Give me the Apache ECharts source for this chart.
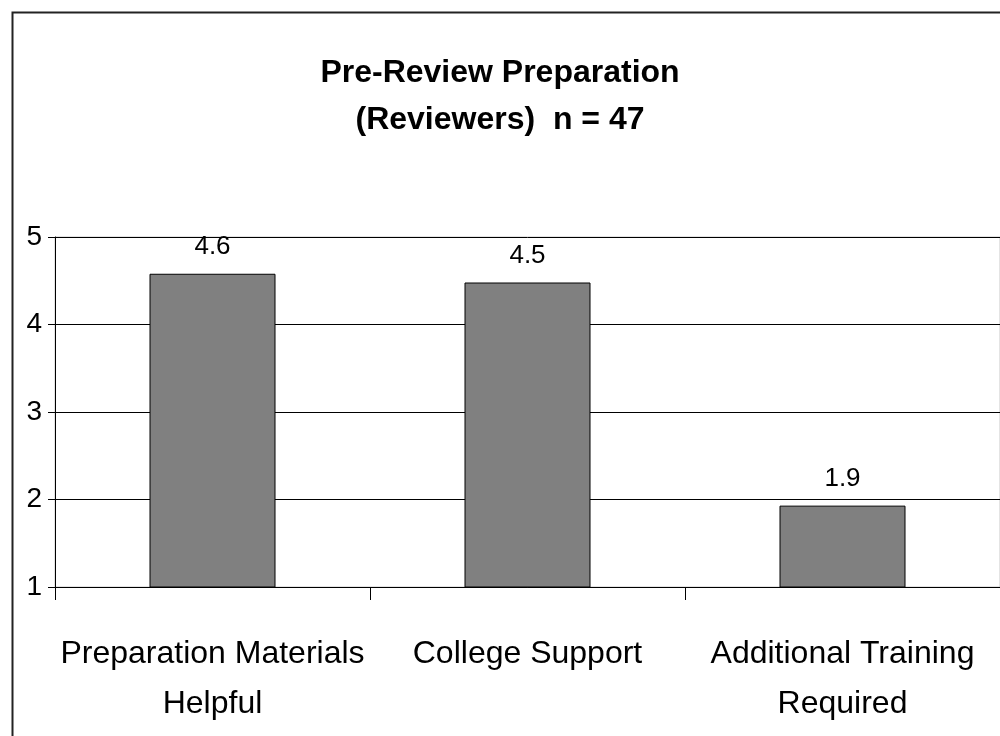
<!DOCTYPE html>
<html>
<head>
<meta charset="utf-8">
<script src="https://cdn.jsdelivr.net/npm/echarts@6/dist/echarts.min.js"></script>
<style>
  html, body { margin: 0; padding: 0; background: #fff; }
  #chart { width: 1000px; height: 736px; }
</style>
</head>
<body>
<div id="chart"></div>
<script>
// data
var categories = ['Preparation Materials\nHelpful', 'College Support', 'Additional Training\nRequired']
var scores = [4.58, 4.48, 1.93]
var yMin = 1
var yMax = 5
var titleText = 'Pre-Review Preparation\n(Reviewers)  n = 47'

var font = "'Liberation Sans', Arial, sans-serif"

var chart = echarts.init(document.getElementById('chart'))

var option = {
  backgroundColor: '#fff',
  animation: false,
  title: {
    text: titleText,
    left: 'center',
    top: 45,
    textStyle: {
      color: '#000',
      fontSize: 32,
      fontWeight: 'bold',
      fontFamily: font,
      lineHeight: 47,
    },
  },
  // outer frame, right and bottom edges fall outside the picture
  graphic: [
    {
      type: 'rect',
      left: 10,
      top: 10,
      shape: { width: 1010, height: 760 },
      style: { fill: 'none', stroke: '#222', lineWidth: 2 },
      silent: true,
    },
  ],
  grid: {
    left: 55,
    right: 0,
    top: 237,
    bottom: 149,
    show: true,
    borderColor: '#c8c8c8',
    borderWidth: 1,
    backgroundColor: 'transparent',
  },
  xAxis: {
    type: 'category',
    data: categories,
    axisLine: { lineStyle: { color: '#000', width: 1 } },
    axisTick: { show: true, alignWithLabel: false, length: 13, lineStyle: { color: '#000' } },
    axisLabel: {
      color: '#000',
      fontSize: 32,
      fontFamily: font,
      lineHeight: 50,
      margin: 42,
      interval: 0,
    },
    splitLine: { show: false },
  },
  yAxis: {
    type: 'value',
    min: yMin,
    max: yMax,
    interval: 1,
    axisLine: { show: true, lineStyle: { color: '#000', width: 1 } },
    axisTick: { show: true, length: 7, lineStyle: { color: '#000' } },
    axisLabel: {
      color: '#000',
      fontSize: 28,
      fontFamily: font,
      margin: 13,
    },
    splitLine: { show: true, lineStyle: { color: '#000', width: 1 } },
  },
  series: [
    {
      type: 'bar',
      data: scores,
      barWidth: '40%',
      clip: true,
      itemStyle: {
        color: '#808080',
        borderColor: '#000',
        borderWidth: 1,
      },
      label: {
        show: true,
        position: 'top',
        distance: 14,
        color: '#000',
        fontSize: 26,
        fontFamily: font,
        formatter(p) {
          return p.value.toFixed(1)
        },
      },
    },
  ],
}

chart.setOption(option)
</script>
</body>
</html>
